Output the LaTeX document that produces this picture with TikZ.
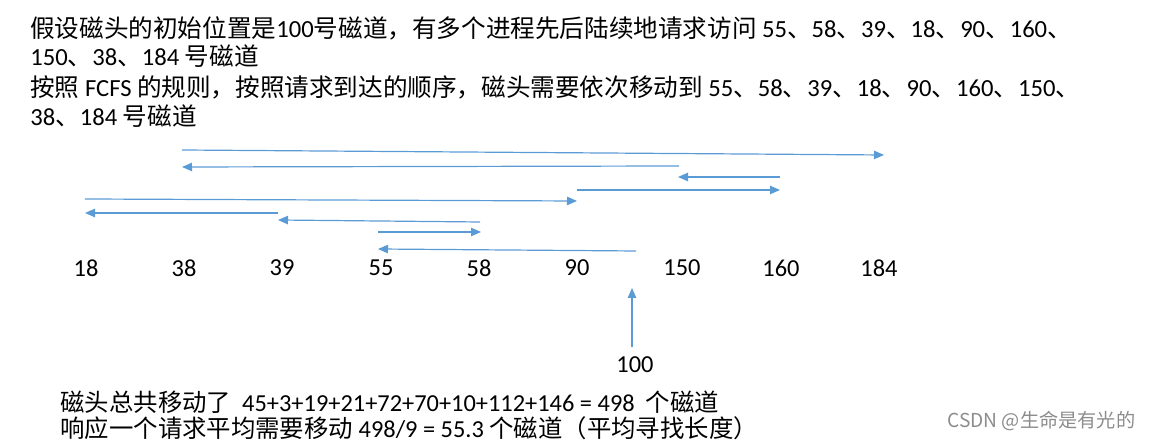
\documentclass[tikz,border=0pt]{standalone}
\usepackage{fontspec}
\setmainfont{Noto Sans CJK SC}
\newfontfamily\latinfont{Carlito}
\newcommand\lt[1]{{\latinfont #1}}
\usetikzlibrary{arrows.meta}

\definecolor{trackblue}{HTML}{5B9BD5}

\begin{document}
\begin{tikzpicture}[
            x=0.5pt, y=-0.5pt,
            font=\fontsize{12.2pt}{14pt}\selectfont,
            % Styles
            line/.style={anchor=west, inner sep=0pt},
            track/.style={inner sep=0pt, font=\fontsize{12.2pt}{14pt}\selectfont\latinfont},
            move/.style={draw=trackblue, line width=0.6pt, -{Triangle[length=5pt, width=4.2pt]}}
        ]
        \useasboundingbox (0,0) rectangle (1153,442);

        % --- TEXT ON TOP ---
        \node (l1) [line, font=\fontsize{12.3pt}{14pt}\selectfont] at (30,28) {假设磁头的初始位置是\lt{100}号磁道，有多个进程先后陆续地请求访问 \lt{55}、\lt{58}、\lt{39}、\lt{18}、\lt{90}、\lt{160}、};
        \node (l2) [line, font=\fontsize{12.3pt}{14pt}\selectfont] at (30,56) {\lt{150}、\lt{38}、\lt{184} 号磁道};
        \node (l3) [line, font=\fontsize{12.3pt}{14pt}\selectfont] at (30,87) {按照 \lt{FCFS} 的规则，按照请求到达的顺序，磁头需要依次移动到 \lt{55}、\lt{58}、\lt{39}、\lt{18}、\lt{90}、\lt{160}、\lt{150}、};
        \node (l4) [line, font=\fontsize{12.3pt}{14pt}\selectfont] at (30,116) {\lt{38}、\lt{184} 号磁道};

        % --- TRACK NUMBERS ---
        \node (t18) [track] at (86,268) {18};
        \node (t38) [track] at (184,268) {38};
        \node (t39) [track] at (282,268) {39};
        \node (t55) [track] at (381,268) {55};
        \node (t58) [track] at (479,268) {58};
        \node (t90) [track] at (577,268) {90};
        \node (t150) [track] at (682,268) {150};
        \node (t160) [track] at (781,268) {160};
        \node (t184) [track] at (879,268) {184};
        \node (start) [track] at (635,365) {100};

        % --- END POINTS OF THE MOVES ---
        \coordinate (a0) at (632,347);  \coordinate (b0) at (632,288);
        \coordinate (a1) at (636,251);  \coordinate (b1) at (378,249);
        \coordinate (a2) at (378,232);  \coordinate (b2) at (481,232);
        \coordinate (a3) at (480,222);  \coordinate (b3) at (278,220);
        \coordinate (a4) at (278,213);  \coordinate (b4) at (85,213);
        \coordinate (a5) at (85,199);   \coordinate (b5) at (577,201);
        \coordinate (a6) at (577,190);  \coordinate (b6) at (780,190);
        \coordinate (a7) at (780,177);  \coordinate (b7) at (678,177);
        \coordinate (a8) at (679,166);  \coordinate (b8) at (182,167);
        \coordinate (a9) at (182,150);  \coordinate (b9) at (884,155);

        % --- HEAD MOVES ---
        \draw [move] (a0) -- (b0);
        \draw [move] (a1) -- (b1);
        \draw [move] (a2) -- (b2);
        \draw [move] (a3) -- (b3);
        \draw [move] (a4) -- (b4);
        \draw [move] (a5) -- (b5);
        \draw [move] (a6) -- (b6);
        \draw [move] (a7) -- (b7);
        \draw [move] (a8) -- (b8);
        \draw [move] (a9) -- (b9);

        % --- RESULT ---
        \node (sum) [line] at (60,402) {磁头总共移动了\lt{\ \ 45+3+19+21+72+70+10+112+146 = 498\ \ }个磁道};
        \node (avg) [line] at (60,428) {响应一个请求平均需要移动 \lt{498/9 = 55.3} 个磁道（平均寻找长度）};

        \node (mark) [line, text=black!45, font=\fontsize{9.6pt}{11pt}\selectfont] at (947,421) {CSDN @生命是有光的};

\end{tikzpicture}
\end{document}
